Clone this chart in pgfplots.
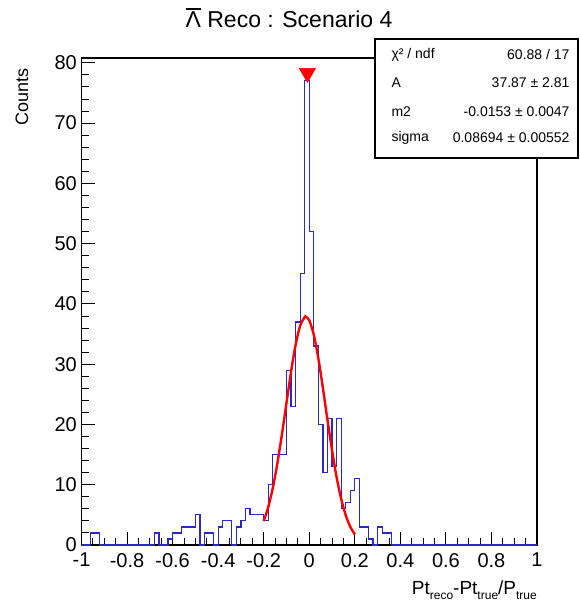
\documentclass[border=0pt]{standalone}
\usepackage{fontspec}
\setmainfont{Liberation Sans}
\usepackage{pgfplots}
\pgfplotsset{compat=1.18}

\definecolor{histblue}{RGB}{40,40,205}
\definecolor{fitred}{RGB}{255,0,0}

% anti-lambda with a bar on top
\newcommand\lbar{\leavevmode\setbox0\hbox{Λ}\rlap{\hbox to\wd0{\hss\rule[\dimexpr\ht0+2pt\relax]{0.95\wd0}{1.4pt}\hss}}\box0}

\begin{document}
\begin{tikzpicture}
\useasboundingbox (-81.5pt,-62pt) rectangle (497.5pt,545pt);
\begin{axis}[
    at={(0pt,0pt)}, anchor=south west,
    scale only axis,
    width=455.5pt, height=487pt,
    xmin=-1, xmax=1,
    ymin=0, ymax=80.8,
    xtick={-1,-0.8,-0.6,-0.4,-0.2,0,0.2,0.4,0.6,0.8,1},
    xticklabels={-1,-0.8,-0.6,-0.4,-0.2,0,0.2,0.4,0.6,0.8,1},
    minor x tick num=3,
    ytick={0,10,20,30,40,50,60,70,80},
    minor y tick num=4,
    tick align=inside, tick pos=left,
    major tick length=13pt, minor tick length=7pt,
    every tick/.style={black, line width=0.9pt},
    axis line style={line width=1.3pt},
    tick label style={font=\fontsize{20}{21}\selectfont, inner sep=0pt},
    /pgf/number format/assume math mode=true,
    yticklabel style={xshift=-4.5pt},
    xticklabel style={yshift=-8pt},
]
% histogram, left bin edges (bin width 0.02)
\addplot[const plot, histblue, line width=1.2pt] coordinates {
    (-1,0) (-0.96,2) (-0.92,0) (-0.68,2) (-0.66,0) (-0.62,1) (-0.60,2)
    (-0.56,3) (-0.50,5) (-0.48,0) (-0.46,2) (-0.42,0) (-0.40,3) (-0.38,4)
    (-0.34,0) (-0.32,3) (-0.30,4) (-0.28,6) (-0.26,5) (-0.20,4) (-0.18,10)
    (-0.16,15) (-0.10,29) (-0.08,23) (-0.06,37) (-0.04,45) (-0.02,77)
    (0.00,52) (0.02,33) (0.04,20) (0.06,12) (0.08,21) (0.10,13) (0.12,21)
    (0.14,6) (0.16,7) (0.18,9) (0.20,11) (0.22,3) (0.26,1) (0.28,0)
    (0.30,3) (0.32,2) (0.36,0) (1,0)
};
% gaussian fit
\addplot[smooth, fitred, line width=2.4pt] coordinates {
    (-0.20,3.97) (-0.18,6.29) (-0.16,9.48) (-0.14,13.54) (-0.12,18.34)
    (-0.10,23.56) (-0.08,28.71) (-0.06,33.18) (-0.04,36.37) (-0.02,37.81)
    (-0.0153,37.87) (0.00,37.29) (0.02,34.87) (0.04,30.94) (0.06,26.02)
    (0.08,20.77) (0.10,15.72) (0.12,11.28) (0.14,7.68) (0.16,4.96)
    (0.18,3.04) (0.20,1.77)
};
% peak marker
\addplot[only marks, mark=triangle*, mark size=9.5pt,
    mark options={rotate=180, fill=fitred, draw=fitred}] coordinates {(-0.008,78.3)};
\end{axis}

% title and axis titles
\node[font=\fontsize{23}{24}\selectfont] at (207.5pt,527pt) {\lbar\ Reco : Scenario 4};
\node[rotate=90, anchor=east, font=\fontsize{18}{19}\selectfont] at (-59.5pt,480pt) {Counts};
\node[anchor=base east, font=\fontsize{19}{20}\selectfont, inner sep=0pt] at (455.5pt,-49pt)
    {Pt\raisebox{-5pt}{\fontsize{12}{12}\selectfont reco}-Pt\raisebox{-5pt}{\fontsize{12}{12}\selectfont true}/P\raisebox{-5pt}{\fontsize{12}{12}\selectfont true}};

% stats box
\draw[line width=1.4pt, fill=white] (293.5pt,387pt) rectangle (496.5pt,506pt);
\begin{scope}[font=\fontsize{14}{15}\selectfont]
\node[anchor=west] at (306.5pt,490pt) {χ² / ndf};
\node[anchor=east] at (491.5pt,490pt) {60.88 / 17};
\node[anchor=west] at (306.5pt,462pt) {A};
\node[anchor=east] at (491.5pt,462pt) {37.87 ± 2.81};
\node[anchor=west] at (306.5pt,433pt) {m2};
\node[anchor=east] at (491.5pt,433pt) {-0.0153 ± 0.0047};
\node[anchor=west] at (306.5pt,407pt) {sigma};
\node[anchor=east] at (491.5pt,407pt) {0.08694 ± 0.00552};
\end{scope}
\end{tikzpicture}
\end{document}
